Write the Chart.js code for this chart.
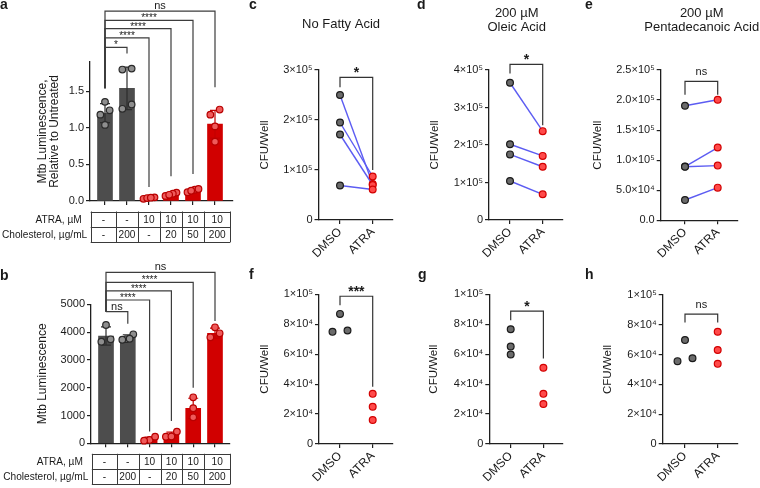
<!DOCTYPE html>
<html>
<head>
<meta charset="utf-8">
<title>Mtb luminescence and CFU per well</title>
<script src="https://cdn.jsdelivr.net/npm/chart.js@4.4.1/dist/chart.umd.min.js"></script>
<style>
html,body{margin:0;padding:0;background:#fff;}
#fig{position:relative;width:760px;height:488px;overflow:hidden;background:#fff;}
.pane{position:absolute;}
.pane canvas{display:block;}
</style>
</head>
<body>
<div id="fig"></div>
<script>
// ================= DATA =================
const tableRowLabels = ['ATRA, µM', 'Cholesterol, µg/mL'];
const atraRow = ['-', '-', '10', '10', '10', '10'];
const cholesterolRow = ['-', '200', '-', '20', '50', '200'];

// Panel a
const aTitle = ['Mtb Luminescence,', 'Relative to Untreated'];
const aMeans = [1.20, 1.54, 0.04, 0.09, 0.14, 1.05];
const aSD = [0.13, 0.29, 0.01, 0.02, 0.02, 0.19];
const aPoints = [
  [1.355, 1.24, 1.18, 1.04],
  [1.81, 1.797, 1.32, 1.26],
  [0.03, 0.05, 0.04, 0.045],
  [0.07, 0.115, 0.10, 0.085],
  [0.12, 0.155, 0.165, 0.14],
  [1.18, 1.25, 1.02, 0.81]
];
const aTickValues = [0, 0.5, 1.0, 1.5];
const aTickLabels = ['0.0', '0.5', '1.0', '1.5'];
const aCompareTo = [1, 2, 3, 4, 5];
const aSig = ['*', '****', '****', '****', 'ns'];
const aBracketY = [2.10, 2.23, 2.355, 2.47, 2.595];
const aBracketEnd = [2.015, 0.19, 0.34, 0.37, 1.555];
const aBracketFrom = 1.54;

// Panel b
const bTitle = 'Mtb Luminescence';
const bMeans = [3860, 3810, 150, 300, 1260, 3960];
const bSD = [325, 95, 75, 105, 360, 180];
const bPoints = [
  [4255, 3655, 3741],
  [3921, 3745, 3725, 3760],
  [120, 240, 95],
  [235, 420, 245],
  [1655, 1260, 935],
  [4173, 3813, 3957]
];
const bTickValues = [0, 1000, 2000, 3000, 4000, 5000];
const bTickLabels = ['0', '1000', '2000', '3000', '4000', '5000'];
const bCompareTo = [1, 2, 3, 4, 5];
const bSig = ['ns', '****', '****', '****', 'ns'];
const bBracketY = [4735, 5155, 5480, 5790, 6150];
const bBracketEnd = [4300, 420, 800, 2000, 4400];
const bBracketFrom = 4735;

// Panels c-h
const groups = ['DMSO', 'ATRA'];
const cfuTitle = 'CFU/Well';
const cTitle = ['No Fatty Acid'];
const dTitle = ['200 µM', 'Oleic Acid'];
const eTitle = ['200 µM', 'Pentadecanoic Acid'];

const cDMSO = [2.50e5, 1.95e5, 1.71e5, 0.69e5];
const cATRA = [0.72e5, 0.87e5, 0.70e5, 0.61e5];
const dDMSO = [3.66e5, 2.02e5, 1.75e5, 1.04e5];
const dATRA = [2.37e5, 1.71e5, 1.42e5, 0.685e5];
const eDMSO = [1.905e5, 0.893e5, 0.89e5, 0.338e5];
const eATRA = [2.005e5, 1.21e5, 0.91e5, 0.543e5];
const fDMSO = [8.69e4, 7.49e4, 7.58e4];
const fATRA = [3.35e4, 2.49e4, 1.60e4];
const gDMSO = [7.67e4, 6.51e4, 5.98e4];
const gATRA = [5.09e4, 3.35e4, 2.67e4];
const hDMSO = [6.98e4, 5.56e4, 5.76e4];
const hATRA = [7.53e4, 6.31e4, 5.38e4];

const cTickValues = [0, 1e5, 2e5, 3e5];
const cTickLabels = ['0', '1×10⁵', '2×10⁵', '3×10⁵'];
const dTickValues = [0, 1e5, 2e5, 3e5, 4e5];
const dTickLabels = ['0', '1×10⁵', '2×10⁵', '3×10⁵', '4×10⁵'];
const eTickValues = [0, 0.5e5, 1.0e5, 1.5e5, 2.0e5, 2.5e5];
const eTickLabels = ['0.0', '5.0×10⁴', '1.0×10⁵', '1.5×10⁵', '2.0×10⁵', '2.5×10⁵'];
const fghTickValues = [0, 2e4, 4e4, 6e4, 8e4, 1e5];
const fghTickLabels = ['0', '2×10⁴', '4×10⁴', '6×10⁴', '8×10⁴', '1×10⁵'];

// significance: [label, bracket level, left leg end, right leg end]
const cSig = ['*', 2.854e5, 2.654e5, 1.0e5];
const dSig = ['*', 4.15e5, 3.91e5, 2.53e5];
const eSig = ['ns', 2.31e5, 2.09e5, 2.09e5];
const fSig = ['***', 9.87e4, 9.27e4, 3.82e4];
const gSig = ['*', 8.87e4, 8.27e4, 5.71e4];
const hSig = ['ns', 8.71e4, 8.15e4, 8.15e4];

// ================= STYLE =================
const FONT = "'Liberation Sans', Arial, Helvetica, sans-serif";
Chart.defaults.font.family = FONT;
Chart.defaults.color = '#1a1a1a';
const C = {
  axis: '#1f1f1f', text: '#1a1a1a', bracket: '#3d3d3d',
  grayBar: '#4d4d4d', redBar: '#d10000',
  grayDotFill: '#8e8e8e', grayDotLine: '#2a2a2a',
  redDotFill: '#ef5a5a', redDotLine: '#b80000',
  errGray: '#2e2e2e', errRed: '#c40000',
  dmsoFill: '#6b6b6b', dmsoLine: '#1a1a1a',
  atraFill: '#ff4a4a', atraLine: '#d20000',
  pair: '#5c5cf2'
};
const fig = document.getElementById('fig');

function makeCanvas(r) {
  const d = document.createElement('div');
  d.className = 'pane';
  const w = r[2] - r[0], h = r[3] - r[1];
  d.style.left = r[0] + 'px'; d.style.top = r[1] + 'px';
  d.style.width = w + 'px'; d.style.height = h + 'px';
  const c = document.createElement('canvas');
  c.width = w; c.height = h; c.style.width = w + 'px'; c.style.height = h + 'px';
  d.appendChild(c); fig.appendChild(d);
  return c;
}

function txt(ctx, s, x, y, font, align, base, sx) {
  ctx.save();
  ctx.font = font; ctx.textAlign = align; ctx.textBaseline = base; ctx.fillStyle = C.text;
  if (sx) { ctx.translate(x, y); ctx.scale(sx, 1); ctx.fillText(s, 0, 0); }
  else ctx.fillText(s, x, y);
  ctx.restore();
}

// Prism-like horizontal spreading of points that sit at nearly the same height
function spreadOffsets(vals, pxPerUnit, thr, gap, maxW) {
  const order = vals.map((v, i) => i).sort((i, j) => vals[j] - vals[i]);
  const off = vals.map(() => 0);
  const rows = [];
  let row = [order[0]];
  for (let k = 1; k < order.length; k++) {
    const p = order[k - 1], c = order[k];
    if ((vals[p] - vals[c]) * pxPerUnit < thr) row.push(c); else { rows.push(row); row = [c]; }
  }
  rows.push(row);
  rows.forEach(r => {
    const n = r.length; if (n < 2) return;
    r.sort((i, j) => vals[i] - vals[j]);
    const s = Math.min(gap, maxW / (n - 1));
    r.forEach((i, k) => { off[i] = (k - (n - 1) / 2) * s; });
  });
  return off;
}

function axisGrid() {
  return { display: true, drawOnChartArea: false, drawTicks: true, tickLength: 4, color: C.axis, lineWidth: 1.2, offset: false };
}
function axisBorder() { return { display: true, color: C.axis, width: 1.3 }; }

// ================= BAR PANELS (a, b) =================
function barPanel(P) {
  const R = P.region, W = R[2] - R[0], H = R[3] - R[1];
  const canvas = makeCanvas(R);
  const left = P.left - R[0], top = P.top - R[1], bottom = P.bottom - R[1];
  const xmin = -(P.x0 - P.left) / P.step;
  const right = P.x0 + P.xmax * P.step - R[0];
  const pyu = (bottom - top) / P.ymax;
  const red = i => atraRow[i] !== '-';

  const datasets = [{
    type: 'bar', data: P.means.map((m, i) => ({ x: i, y: m })),
    backgroundColor: P.means.map((m, i) => red(i) ? C.redBar : C.grayBar),
    borderWidth: 0, barThickness: P.barW, order: 3
  }];
  P.points.forEach((vals, i) => {
    const off = spreadOffsets(vals, pyu, 5.5, 9.3, 11);
    datasets.push({
      type: 'scatter', data: vals.map((v, k) => ({ x: i + off[k] / P.step, y: v })),
      pointRadius: 3.3, pointHoverRadius: 3.3, pointBorderWidth: 1.2,
      pointBackgroundColor: red(i) ? C.redDotFill : C.grayDotFill,
      pointBorderColor: red(i) ? C.redDotLine : C.grayDotLine,
      clip: false, order: 1
    });
  });

  const plugin = {
    id: 'ann' + P.letter,
    afterDatasetDraw(chart, args) {
      if (args.index !== 0) return;
      const ctx = chart.ctx, xs = chart.scales.x, ys = chart.scales.y;
      ctx.save();
      ctx.lineWidth = 1.2;
      P.means.forEach((m, i) => {
        const x = xs.getPixelForValue(i);
        const yT = ys.getPixelForValue(m + P.sd[i]), yB = ys.getPixelForValue(Math.max(0, m - P.sd[i]));
        ctx.strokeStyle = red(i) ? C.errRed : C.errGray;
        ctx.beginPath();
        ctx.moveTo(x, yB); ctx.lineTo(x, yT);
        ctx.moveTo(x - 5, yT); ctx.lineTo(x + 5, yT);
        ctx.moveTo(x - 5, yB); ctx.lineTo(x + 5, yB);
        ctx.stroke();
      });
      ctx.restore();
    },
    afterDraw(chart) {
      const ctx = chart.ctx, xs = chart.scales.x, ys = chart.scales.y, ca = chart.chartArea;
      // table
      const tTop = ca.bottom + 10.5, rh = 15;
      const edges = [xs.getPixelForValue(-0.65)];
      for (let i = 1; i < P.means.length; i++) edges.push(xs.getPixelForValue(i - 0.5));
      edges.push(xs.getPixelForValue(P.means.length - 1 + 0.7));
      ctx.save();
      ctx.strokeStyle = '#3a3a3a'; ctx.lineWidth = 1;
      ctx.beginPath();
      for (let r = 0; r <= 2; r++) {
        const y = Math.round(tTop + r * rh) + 0.5;
        ctx.moveTo(edges[0], y); ctx.lineTo(edges[edges.length - 1], y);
      }
      edges.forEach(e => { const x = Math.round(e) + 0.5; ctx.moveTo(x, tTop); ctx.lineTo(x, tTop + 2 * rh + 0.5); });
      ctx.stroke();
      ctx.restore();
      const rows = [atraRow, cholesterolRow];
      const labelGap = [9, 3.5];
      rows.forEach((rowVals, r) => {
        const yc = tTop + rh * (r + 0.5) + 0.5;
        txt(ctx, tableRowLabels[r], edges[0] - labelGap[r], yc, '11px ' + FONT, 'right', 'middle', 0.92);
        rowVals.forEach((s, c) => txt(ctx, s, (edges[c] + edges[c + 1]) / 2, yc, '11px ' + FONT, 'center', 'middle', 0.92));
      });
      // brackets
      ctx.save();
      ctx.strokeStyle = C.bracket; ctx.lineWidth = 1.2;
      const x0 = xs.getPixelForValue(0);
      P.compareTo.forEach((t, k) => {
        const x1 = xs.getPixelForValue(t);
        const yl = ys.getPixelForValue(P.bracketY[k]);
        ctx.beginPath();
        ctx.moveTo(x0, ys.getPixelForValue(P.bracketFrom));
        ctx.lineTo(x0, yl); ctx.lineTo(x1, yl);
        ctx.lineTo(x1, ys.getPixelForValue(P.bracketEnd[k]));
        ctx.stroke();
        const s = P.sig[k];
        if (s === 'ns') txt(ctx, s, (x0 + x1) / 2, yl - 2, '11px ' + FONT, 'center', 'alphabetic');
        else txt(ctx, s, (x0 + x1) / 2, yl + 1, '10px ' + FONT, 'center', 'alphabetic');
      });
      ctx.restore();
      // panel letter
      txt(ctx, P.letter, P.letterPos[0] - R[0], P.letterPos[1] - R[1], 'bold 14px ' + FONT, 'left', 'alphabetic');
    }
  };

  new Chart(canvas, {
    type: 'bar',
    data: { datasets },
    options: {
      responsive: false, animation: false, devicePixelRatio: 1, events: [],
      layout: { padding: { left: 0, top: top, right: W - right, bottom: 0 } },
      plugins: { legend: { display: false }, tooltip: { enabled: false } },
      scales: {
        x: {
          type: 'linear', min: xmin, max: P.xmax, offset: false,
          grid: axisGrid(), border: axisBorder(),
          ticks: { callback: () => '', autoSkip: false, maxRotation: 0, padding: 0 },
          afterBuildTicks: s => { s.ticks = P.means.map((m, i) => ({ value: i })); },
          afterFit: s => { s.height = H - bottom; }
        },
        y: {
          type: 'linear', min: 0, max: P.ymax,
          grid: axisGrid(), border: axisBorder(),
          ticks: { callback: (v, i) => P.tickLabels[i], font: { size: 11 }, color: C.text, padding: 2, autoSkip: false },
          afterBuildTicks: s => { s.ticks = P.tickValues.map(v => ({ value: v })); },
          title: { display: true, text: P.yTitle, font: { size: 12, lineHeight: 1 }, color: C.text, padding: { top: P.titlePad, bottom: 0 } },
          afterFit: s => { s.width = left; }
        }
      }
    },
    plugins: [plugin]
  });
}

// ================= DOT PANELS (c-h) =================
function dotPanel(P) {
  const R = P.region, W = R[2] - R[0], H = R[3] - R[1];
  const canvas = makeCanvas(R);
  const left = P.left - R[0], top = P.top - R[1], bottom = P.bottom - R[1];
  const step = 32.7, xmax = 1.6;
  const xmin = -(P.x0 - P.left) / step;
  const right = P.x0 + xmax * step - R[0];
  const pyu = (bottom - top) / P.ymax;

  const datasets = [];
  let offD = P.dmso.map(() => 0), offA = P.atra.map(() => 0);
  if (P.paired) {
    P.dmso.forEach((v, k) => datasets.push({
      type: 'line', data: [{ x: 0, y: v }, { x: 1, y: P.atra[k] }],
      borderColor: C.pair, borderWidth: 1.4, pointRadius: 0, order: 2, clip: false
    }));
  } else {
    offD = spreadOffsets(P.dmso, pyu, 5.5, 15, 16);
    offA = spreadOffsets(P.atra, pyu, 5.5, 15, 16);
  }
  datasets.push({
    type: 'scatter', data: P.dmso.map((v, k) => ({ x: 0 + offD[k] / step, y: v })),
    pointRadius: 3.4, pointBorderWidth: 1.2, pointBackgroundColor: C.dmsoFill, pointBorderColor: C.dmsoLine, clip: false, order: 1
  });
  datasets.push({
    type: 'scatter', data: P.atra.map((v, k) => ({ x: 1 + offA[k] / step, y: v })),
    pointRadius: 3.4, pointBorderWidth: 1.2, pointBackgroundColor: C.atraFill, pointBorderColor: C.atraLine, clip: false, order: 1
  });

  const plugin = {
    id: 'ann' + P.letter,
    afterDraw(chart) {
      const ctx = chart.ctx, xs = chart.scales.x, ys = chart.scales.y;
      const [lab, lvl, l0, l1] = P.sig;
      const x0 = xs.getPixelForValue(0), x1 = xs.getPixelForValue(1), yl = ys.getPixelForValue(lvl);
      ctx.save();
      ctx.strokeStyle = '#333'; ctx.lineWidth = 1.2;
      ctx.beginPath();
      ctx.moveTo(x0, ys.getPixelForValue(l0)); ctx.lineTo(x0, yl); ctx.lineTo(x1, yl); ctx.lineTo(x1, ys.getPixelForValue(l1));
      ctx.stroke();
      ctx.restore();
      if (lab === 'ns') txt(ctx, lab, (x0 + x1) / 2, yl - 6.5, '11px ' + FONT, 'center', 'alphabetic');
      else txt(ctx, lab, (x0 + x1) / 2, yl - 0.5, 'bold 14px ' + FONT, 'center', 'alphabetic');
      if (P.title) {
        const base = P.title.length === 1 ? [28.3] : [17, 30.7];
        P.title.forEach((s, i) => txt(ctx, s, P.titleX - R[0], base[i] - R[1], '13px ' + FONT, 'center', 'alphabetic'));
      }
      txt(ctx, P.letter, P.letterPos[0] - R[0], P.letterPos[1] - R[1], 'bold 14px ' + FONT, 'left', 'alphabetic');
    }
  };

  new Chart(canvas, {
    type: 'scatter',
    data: { datasets },
    options: {
      responsive: false, animation: false, devicePixelRatio: 1, events: [],
      layout: { padding: { left: 0, top: top, right: W - right, bottom: 0 } },
      plugins: { legend: { display: false }, tooltip: { enabled: false } },
      scales: {
        x: {
          type: 'linear', min: xmin, max: xmax, offset: false,
          grid: axisGrid(), border: axisBorder(),
          ticks: { callback: (v, i) => groups[i], autoSkip: false, minRotation: 45, maxRotation: 45, font: { size: 12 }, color: C.text, padding: 1 },
          afterBuildTicks: s => { s.ticks = groups.map((g, i) => ({ value: i })); },
          afterFit: s => { s.height = H - bottom; }
        },
        y: {
          type: 'linear', min: 0, max: P.ymax,
          grid: axisGrid(), border: axisBorder(),
          ticks: { callback: (v, i) => P.tickLabels[i], font: { size: 11 }, color: C.text, padding: 2, autoSkip: false },
          afterBuildTicks: s => { s.ticks = P.tickValues.map(v => ({ value: v })); },
          title: { display: true, text: cfuTitle, font: { size: 11.5, lineHeight: 1 }, color: C.text, padding: { top: P.titlePad, bottom: 0 } },
          afterFit: s => { s.width = left; }
        }
      }
    },
    plugins: [plugin]
  });
}

// ================= BUILD =================
barPanel({
  letter: 'a', letterPos: [0, 8.5], region: [0, 0, 250, 245],
  left: 90, top: 62, bottom: 201, x0: 105, step: 22, xmax: 5.82, ymax: 1.9, barW: 15,
  means: aMeans, sd: aSD, points: aPoints, tickValues: aTickValues, tickLabels: aTickLabels,
  compareTo: aCompareTo, sig: aSig, bracketY: aBracketY, bracketEnd: aBracketEnd, bracketFrom: aBracketFrom,
  yTitle: aTitle, titlePad: 37
});
barPanel({
  letter: 'b', letterPos: [0, 280], region: [0, 245, 250, 488],
  left: 91, top: 304.3, bottom: 443.3, x0: 106, step: 21.8, xmax: 5.69, ymax: 5000, barW: 15,
  means: bMeans, sd: bSD, points: bPoints, tickValues: bTickValues, tickLabels: bTickLabels,
  compareTo: bCompareTo, sig: bSig, bracketY: bBracketY, bracketEnd: bBracketEnd, bracketFrom: bBracketFrom,
  yTitle: bTitle, titlePad: 37
});
dotPanel({ letter: 'c', letterPos: [249, 8.5], region: [246, 0, 420, 258], left: 318.5, top: 70, bottom: 220, x0: 340, ymax: 3e5,
  dmso: cDMSO, atra: cATRA, paired: true, tickValues: cTickValues, tickLabels: cTickLabels, sig: cSig, title: cTitle, titleX: 341, titlePad: 12.75 });
dotPanel({ letter: 'd', letterPos: [417, 8.5], region: [414, 0, 590, 258], left: 489, top: 70, bottom: 220, x0: 510, ymax: 4e5,
  dmso: dDMSO, atra: dATRA, paired: true, tickValues: dTickValues, tickLabels: dTickLabels, sig: dSig, title: dTitle, titleX: 516.7, titlePad: 14.75 });
dotPanel({ letter: 'e', letterPos: [585, 8.5], region: [582, 0, 760, 258], left: 660.7, top: 70, bottom: 220.3, x0: 685, ymax: 2.5e5,
  dmso: eDMSO, atra: eATRA, paired: true, tickValues: eTickValues, tickLabels: eTickLabels, sig: eSig, title: eTitle, titleX: 701.7, titlePad: 10.25 });
dotPanel({ letter: 'f', letterPos: [249, 278.5], region: [246, 250, 420, 488], left: 319, top: 294.3, bottom: 444, x0: 340, ymax: 1e5,
  dmso: fDMSO, atra: fATRA, paired: false, tickValues: fghTickValues, tickLabels: fghTickLabels, sig: fSig, titlePad: 13.25 });
dotPanel({ letter: 'g', letterPos: [418, 278.5], region: [414, 250, 590, 488], left: 489.3, top: 294.3, bottom: 444, x0: 510.7, ymax: 1e5,
  dmso: gDMSO, atra: gATRA, paired: false, tickValues: fghTickValues, tickLabels: fghTickLabels, sig: gSig, titlePad: 14.25 });
dotPanel({ letter: 'h', letterPos: [585, 278.5], region: [582, 250, 760, 488], left: 662.7, top: 295, bottom: 444, x0: 685, ymax: 1e5,
  dmso: hDMSO, atra: hATRA, paired: false, tickValues: fghTickValues, tickLabels: fghTickLabels, sig: hSig, titlePad: 20.25 });
</script>
</body>
</html>
